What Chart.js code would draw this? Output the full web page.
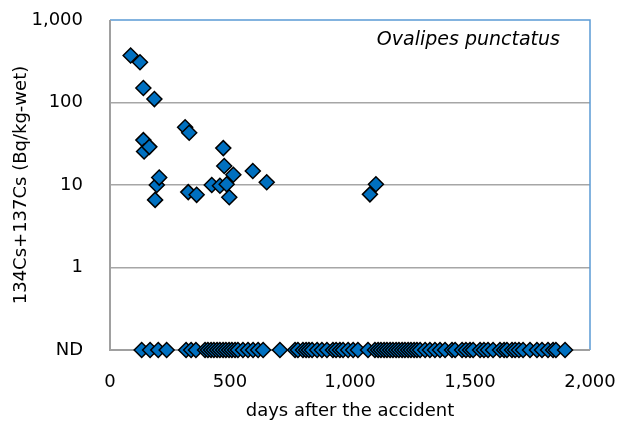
<!DOCTYPE html>
<html>
<head>
<meta charset="utf-8">
<script src="https://cdn.jsdelivr.net/npm/chart.js@4/dist/chart.umd.min.js"></script>
<style>
html,body{margin:0;padding:0;background:#fff;}
#wrap{width:619px;height:430px;position:relative;}
</style>
</head>
<body>
<div id="wrap"><canvas id="c" width="619" height="430"></canvas></div>
<script>
// Detected samples: days after the accident and 134Cs+137Cs (Bq/kg-wet)
const detDays   = [86, 125, 139, 139, 142, 164, 185, 188, 195, 205, 313, 326, 330, 361, 424, 458, 472, 476, 486, 497, 514, 595, 653, 1083, 1108];
const detValues = [371, 307, 150, 35, 25.5, 29, 110, 6.6, 10, 12.3, 50, 8.2, 43, 7.6, 10, 9.8, 28, 17, 10.2, 7.1, 13.3, 14.8, 10.8, 7.7, 10.2];
// Not detected samples (plotted on the ND row)
const ndDays = [132, 167, 201, 236, 317, 338, 358, 396, 408, 421, 433, 446, 458, 471, 483, 496, 508, 521, 533,
  554, 575, 596, 617, 638, 708, 771, 783, 804, 817, 829, 842, 863, 883, 904, 929, 942, 958, 971, 992, 1013,
  1033, 1075, 1104, 1117, 1129, 1142, 1154, 1167, 1179, 1192, 1204, 1217, 1229, 1242, 1254, 1267, 1279, 1292,
  1313, 1333, 1354, 1375, 1396, 1425, 1438, 1467, 1483, 1500, 1513, 1542, 1558, 1575, 1596, 1625, 1642, 1654,
  1675, 1688, 1704, 1721, 1750, 1779, 1800, 1825, 1846, 1858, 1896];
const ndValue = 0.1;
const yTicks = [0.1, 1, 10, 100, 1000];
const yTickLabels = ['ND', '1', '10', '100', '1,000'];
const xTicks = [0, 500, 1000, 1500, 2000];
const xTickLabels = ['0', '500', '1,000', '1,500', '2,000'];
const speciesName = 'Ovalipes punctatus';

const FONT = "'DejaVu Sans', 'Noto Sans', sans-serif";
const markerStyle = {
  showLine: false,
  clip: false,
  pointStyle: 'rectRot',
  pointRadius: 7.5,
  pointHoverRadius: 7.5,
  pointBackgroundColor: '#0070C0',
  pointBorderColor: '#000000',
  pointBorderWidth: 1.5
};

const frame = {
  id: 'frame',
  beforeDatasetsDraw(chart) {
    const {ctx, chartArea: a} = chart;
    ctx.save();
    ctx.strokeStyle = '#5B9BD5';
    ctx.lineWidth = 1.5;
    ctx.beginPath();
    ctx.moveTo(a.left, a.top);
    ctx.lineTo(a.right, a.top);
    ctx.lineTo(a.right, a.bottom);
    ctx.stroke();
    ctx.strokeStyle = '#A0A0A0';
    ctx.lineWidth = 2;
    ctx.beginPath();
    ctx.moveTo(a.left, a.top);
    ctx.lineTo(a.left, a.bottom);
    ctx.lineTo(a.right, a.bottom);
    ctx.stroke();
    ctx.restore();
  },
  afterDraw(chart) {
    const {ctx, chartArea: a} = chart;
    ctx.save();
    ctx.font = "oblique 19px 'DejaVu Sans', sans-serif";
    ctx.fillStyle = '#000';
    ctx.textAlign = 'right';
    ctx.textBaseline = 'middle';
    ctx.fillText(speciesName, a.right - 30, a.top + 20);
    ctx.restore();
  }
};

new Chart(document.getElementById('c'), {
  type: 'scatter',
  data: {
    datasets: [
      Object.assign({ label: 'detected', data: detDays.map((d, i) => ({x: d, y: detValues[i]})) }, markerStyle),
      Object.assign({ label: 'ND', data: ndDays.map(d => ({x: d, y: ndValue})) }, markerStyle)
    ]
  },
  options: {
    responsive: false,
    animation: false,
    layout: { padding: { top: 20, right: 29, left: 0, bottom: 0 } },
    plugins: { legend: { display: false }, tooltip: { enabled: false } },
    scales: {
      x: {
        type: 'linear', min: 0, max: 2000,
        afterBuildTicks: s => { s.ticks = xTicks.map(v => ({value: v})); },
        afterFit: s => { s.height = 80; s.paddingLeft = 0; s.paddingRight = 0; },
        grid: { display: false, drawTicks: false },
        border: { display: false },
        ticks: {
          padding: 22, color: '#000', font: { family: FONT, size: 18 },
          callback: (v) => xTickLabels[xTicks.indexOf(v)]
        },
        title: { display: true, text: 'days after the accident', color: '#000',
                 font: { family: FONT, size: 18 }, padding: { top: 0, bottom: 8 } }
      },
      y: {
        type: 'logarithmic', min: 0.1, max: 1000,
        afterBuildTicks: s => { s.ticks = yTicks.map(v => ({value: v})); },
        afterFit: s => { s.width = 110; s.paddingTop = 0; s.paddingBottom = 0; },
        grid: {
          drawTicks: false,
          color: c => (c.tick && (c.tick.value === 1 || c.tick.value === 10 || c.tick.value === 100)) ? '#A6A6A6' : 'rgba(0,0,0,0)',
          lineWidth: 1.5
        },
        border: { display: false },
        ticks: {
          padding: 27, color: '#000', font: { family: FONT, size: 18 },
          callback: (v) => { const i = yTicks.findIndex(t => Math.abs(t - v) < 1e-9); return i >= 0 ? yTickLabels[i] : ''; }
        },
        title: { display: true, text: '134Cs+137Cs (Bq/kg-wet)', color: '#000',
                 font: { family: FONT, size: 18 }, padding: { top: 11, bottom: 0 } }
      }
    }
  },
  plugins: [frame]
});
</script>
</body>
</html>
